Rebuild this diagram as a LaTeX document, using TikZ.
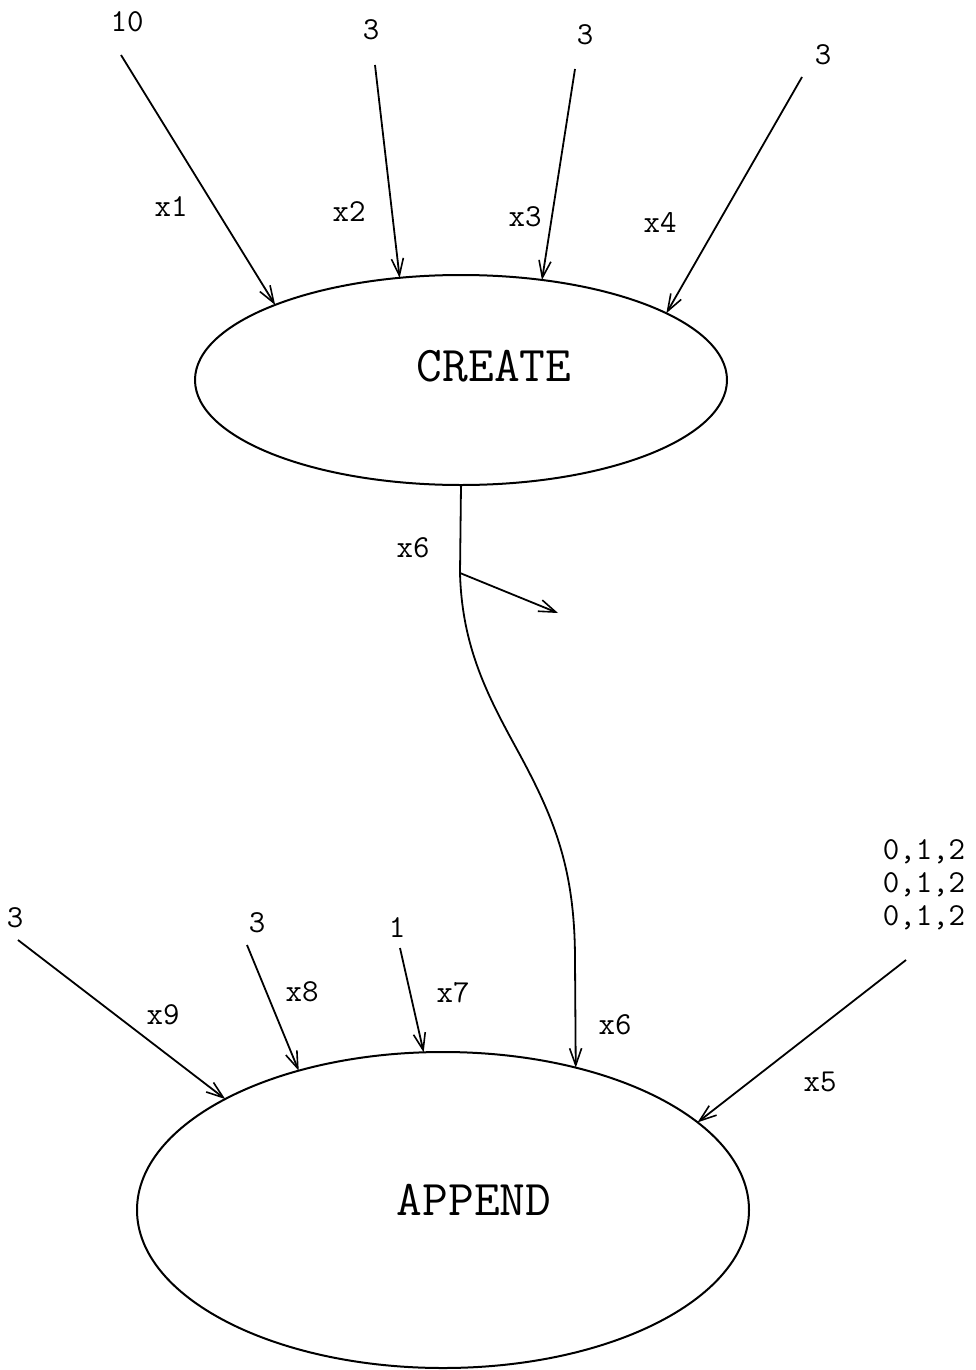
\documentclass[tikz,border=0pt]{standalone}
\usetikzlibrary{shapes.geometric,arrows.meta}
\begin{document}
\begin{tikzpicture}[x=1pt,y=-1pt,
  lbl/.style={font=\fontsize{32}{33}\selectfont\ttfamily, inner sep=0pt},
  title/.style={font=\fontsize{50}{54}\selectfont\ttfamily, inner sep=0pt},
  proc/.style={draw, ellipse, line width=2pt, inner sep=0pt, outer sep=0pt},
  flow/.style={line width=1.8pt, -{Straight Barb[length=17pt,width=12pt,line width=1.6pt]}},
  wire/.style={line width=1.8pt}]
\useasboundingbox (0,0) rectangle (976,1370);

% processes
\node[proc, minimum width=532pt, minimum height=210pt] (create) at (461,380) {};
\node[title] (createtxt) at (494,366) {CREATE};
\node[proc, minimum width=612pt, minimum height=316pt] (append) at (443,1210) {};
\node[title] (appendtxt) at (474,1200) {APPEND};

% inputs of CREATE
\node[lbl] (v1) at (127,22) {10};
\node[lbl] (v2) at (371,30) {3};
\node[lbl] (v3) at (585,35) {3};
\node[lbl] (v4) at (823,55) {3};
\coordinate (s1) at (121,55);
\coordinate (s2) at (375,65);
\coordinate (s3) at (575,69);
\coordinate (s4) at (802,77);
\draw[flow] (s1) -- (create.158.8);
\draw[flow] (s2) -- (create.121.6);
\draw[flow] (s3) -- (create.51.5);
\draw[flow] (s4) -- (create.18.9);
\node[lbl] (l1) at (171,207) {x1};
\node[lbl] (l2) at (349,212) {x2};
\node[lbl] (l3) at (525,217) {x3};
\node[lbl] (l4) at (660,222) {x4};

% x6: CREATE -> APPEND, with a side branch
\coordinate (branch) at (460,573);
\coordinate (side) at (558,613);
\coordinate (bend) at (520,755);
\coordinate (low) at (575,960);
\node[lbl] (l6a) at (413,548) {x6};
\draw[wire] (create.south) -- (branch);
\draw[flow] (branch) -- (side);
\draw[flow] (branch) .. controls (462,650) and (490,700) .. (bend)
  .. controls (555,820) and (575,870) .. (low) -- (append.47.5);
\node[lbl] (l6b) at (615,1025) {x6};

% inputs of APPEND
\node[lbl] (v9) at (15,918) {3};
\node[lbl] (v8) at (257,923) {3};
\node[lbl] (v7) at (397,928) {1};
\node[lbl, align=right] (v5) at (924,885) {0,1,2\\0,1,2\\0,1,2};
\coordinate (s9) at (18,940);
\coordinate (s8) at (247,945);
\coordinate (s7) at (400,948);
\coordinate (s5) at (906,960);
\draw[flow] (s9) -- (append.153.4);
\draw[flow] (s8) -- (append.136);
\draw[flow] (s7) -- (append.97.6);
\draw[flow] (s5) -- (append.19.75);
\node[lbl] (l9) at (163,1015) {x9};
\node[lbl] (l8) at (302,992) {x8};
\node[lbl] (l7) at (453,993) {x7};
\node[lbl] (l5) at (820,1082) {x5};
\end{tikzpicture}
\end{document}
